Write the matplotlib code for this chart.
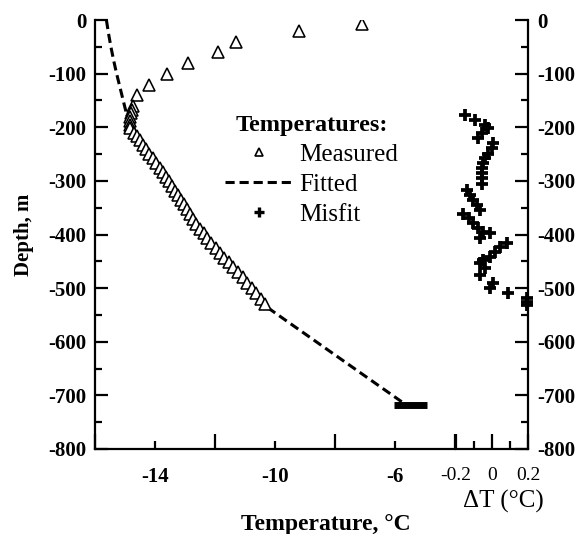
import matplotlib

matplotlib.use("Agg")
import matplotlib.pyplot as plt
from matplotlib.lines import Line2D

plt.rcParams["font.family"] = ["Liberation Serif", "DejaVu Serif"]

# Measured temperatures (degC) vs depth (m)
meas_T = [-7.1, -9.2, -11.3, -11.9, -12.9, -13.6, -14.2, -14.6,
          -14.75, -14.78, -14.8, -14.82, -14.84, -14.85, -14.83,
          -14.7, -14.6, -14.5, -14.4, -14.3, -14.2, -14.08, -13.96,
          -13.84, -13.73, -13.62, -13.52, -13.42, -13.33, -13.23, -13.14,
          -13.04, -12.94, -12.84, -12.73, -12.62, -12.5, -12.38, -12.26,
          -12.12, -11.98, -11.84, -11.7, -11.55, -11.4, -11.25, -11.08,
          -10.92, -10.76, -10.62, -10.48, -10.33]
meas_d = [-8, -20, -41, -60, -80, -101, -121, -140,
          -160, -167, -174, -181, -188, -195, -202,
          -210, -217, -224, -233, -241, -250, -258, -267,
          -276, -284, -292, -301, -310, -318, -327, -335,
          -344, -353, -362, -371, -380, -389, -398, -407,
          -416, -425, -434, -443, -452, -461, -470, -480,
          -490, -500, -510, -520, -530]

# Fitted profile
fit_T = [-15.62, -15.55, -15.47, -15.38, -15.28, -15.17, -15.06, -14.95,
         -14.83, -14.5, -14.2, -13.86, -13.53, -13.25, -12.98, -12.68,
         -12.36, -11.98, -11.58, -11.17, -10.76, -10.4, -10.28, -5.75]
fit_d = [0, -25, -50, -75, -100, -125, -150, -175,
         -200, -225, -250, -275, -300, -325, -350, -375,
         -400, -425, -450, -475, -500, -525, -535, -713]

# bar at the bottom of the fitted profile
bar_T = [-6.05, -4.95]
bar_d = [-718, -718]

# Misfit (degC) vs depth (m)
misfit_dT = [-0.15, -0.094, -0.039, -0.02, -0.055, -0.077, 0.006, 0.0,
             -0.02, -0.04, -0.05, -0.055, -0.055, -0.055, -0.055,
             -0.14, -0.12, -0.105, -0.085, -0.067,
             -0.16, -0.13, -0.105, -0.077, -0.05, -0.01, -0.067,
             0.083, 0.044, 0.017, -0.01, -0.05, -0.067, -0.04, -0.067,
             0.006, -0.01, 0.09, 0.194, 0.194, 0.194]
misfit_d = [-177, -187, -196, -202, -211, -220, -230, -239,
            -249, -258, -267, -276, -286, -295, -305,
            -317, -326, -336, -345, -355,
            -361, -370, -379, -388, -395, -398, -407,
            -416, -423, -433, -442, -448, -453, -463, -476,
            -491, -500, -510, -519, -526, -532]

W, H = 578, 534
fig = plt.figure(figsize=(W / 100, H / 100), dpi=100)

x0, x1, x2 = 95, 455, 528
ytop, ybot = 20, 449
ax = fig.add_axes([x0 / W, 1 - ybot / H, (x1 - x0) / W, (ybot - ytop) / H])
ax2 = fig.add_axes([(x1 + 1) / W, 1 - ybot / H, (x2 - x1 - 1) / W, (ybot - ytop) / H])

lw = 1.6
dash = (0, (3.0, 1.6))
tick_font = {"fontsize": 15, "fontweight": "bold"}

# main panel
ax.plot(fit_T, fit_d, color="black", linestyle=dash, linewidth=2.2, zorder=2)
ax.plot(bar_T, bar_d, color="black", linewidth=5, solid_capstyle="butt", zorder=2)
ax.plot(meas_T, meas_d, linestyle="none", marker="^", markersize=8,
        markerfacecolor="white", markeredgecolor="black", markeredgewidth=1.15, zorder=3)
ax.set_xlim(-16, -4)
ax.set_ylim(-800, 0)
for s in ["top", "right"]:
    ax.spines[s].set_visible(False)
for s in ["left", "bottom"]:
    ax.spines[s].set_linewidth(lw)

ax.set_xticks([-16, -12, -8, -4])
ax.set_xticklabels([])
ax.set_xticks([-14, -10, -6], minor=True)
ax.set_xticklabels(["-14", "-10", "-6"], minor=True, **tick_font)
ax.tick_params(axis="x", which="major", direction="in", length=11, width=lw)
ax.tick_params(axis="x", which="minor", direction="in", length=6, width=lw, pad=13)

ax.set_yticks(list(range(-800, 1, 100)))
ax.set_yticklabels([str(v) for v in range(-800, 1, 100)], **tick_font)
ax.set_yticks(list(range(-750, 0, 100)), minor=True)
ax.tick_params(axis="y", which="major", direction="in", length=9.5, width=lw, pad=6)
ax.tick_params(axis="y", which="minor", direction="in", length=5, width=lw)

# misfit panel
ax2.plot(misfit_dT, misfit_d, linestyle="none", marker="+", markersize=9,
         markeredgewidth=2.7, color="black", clip_on=False, zorder=3)
ax2.set_xlim(-0.2, 0.2)
ax2.set_ylim(-800, 0)
for s in ["top", "left"]:
    ax2.spines[s].set_visible(False)
for s in ["right", "bottom"]:
    ax2.spines[s].set_linewidth(lw)
ax2.set_xticks([-0.2, 0, 0.2])
ax2.set_xticklabels(["-0.2", "0", "0.2"], fontsize=14)
ax2.set_xticks([-0.1, 0.1], minor=True)
ax2.tick_params(axis="x", which="major", direction="in", length=11, width=lw, pad=13)
ax2.tick_params(axis="x", which="minor", direction="in", length=6, width=lw)
ax2.yaxis.tick_right()
ax2.set_yticks(list(range(-800, 1, 100)))
ax2.set_yticklabels([str(v) for v in range(-800, 1, 100)], **tick_font)
ax2.set_yticks(list(range(-750, 0, 100)), minor=True)
ax2.tick_params(axis="y", which="major", direction="in", length=9.5, width=lw, pad=7)
ax2.tick_params(axis="y", which="minor", direction="in", length=5, width=lw)

# axis labels
fig.text(24 / W, 1 - 235 / H, "Depth, m", rotation=90, ha="center", va="center",
         fontsize=15, fontweight="bold")
fig.text(326 / W, 1 - 530 / H, "Temperature, °C", ha="center", va="baseline",
         fontsize=17, fontweight="bold")
fig.text(503 / W, 1 - 501 / H, "ΔT (°C)", ha="center", va="center", fontsize=18)

# legend
handles = [
    Line2D([], [], linestyle="none", marker="^", markersize=6,
           markerfacecolor="white", markeredgecolor="black", markeredgewidth=1.2),
    Line2D([], [], color="black", linestyle=dash, linewidth=2.2),
    Line2D([], [], linestyle="none", marker="+", markersize=7,
           markeredgewidth=2.4, color="black"),
]
leg = ax.legend(handles, ["Measured", "Fitted", "Misfit"], loc="upper left",
                bbox_to_anchor=(225 / W, 1 - 115 / H), bbox_transform=fig.transFigure,
                frameon=False, fontsize=18, handlelength=2.7, handletextpad=0.25,
                labelspacing=0.3, borderpad=0, borderaxespad=0,
                title="Temperatures:", title_fontproperties={"size": 17.5, "weight": "bold"})

fig.savefig("out.png", dpi=100)
